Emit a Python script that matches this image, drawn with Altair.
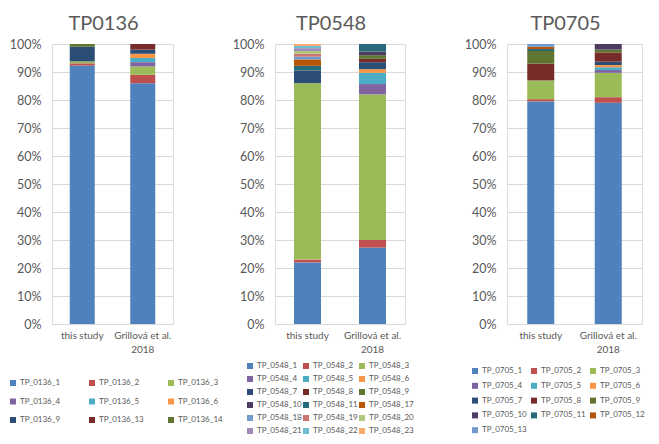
import altair as alt
import pandas as pd

studies = ["this study", "Grillová et al.\n2018"]

# Excel-like palette
c = ["#4F81BD", "#C0504D", "#9BBB59", "#8064A2", "#4BACC6", "#F79646",
     "#2C4D75", "#772C2A", "#5F7530", "#4D3B62", "#276A7C", "#B65708",
     "#729ACA", "#CD7371", "#AFC97A", "#9F8AB8", "#6FBDD1", "#F9AB6B"]

tp0136_series = ["TP_0136_1", "TP_0136_2", "TP_0136_3", "TP_0136_4", "TP_0136_5",
                 "TP_0136_6", "TP_0136_9", "TP_0136_13", "TP_0136_14"]
tp0136_this = [92.3, 0.8, 0.7, 0, 0, 0, 5.2, 0, 1.0]
tp0136_grill = [86.0, 3.0, 3.0, 1.5, 1.5, 1.5, 1.5, 2.0, 0]
tp0136_colors = c[0:9]

tp0548_series = ["TP_0548_1", "TP_0548_2", "TP_0548_3", "TP_0548_4", "TP_0548_5",
                 "TP_0548_6", "TP_0548_7", "TP_0548_8", "TP_0548_9", "TP_0548_10",
                 "TP_0548_11", "TP_0548_17", "TP_0548_18", "TP_0548_19", "TP_0548_20",
                 "TP_0548_21", "TP_0548_22", "TP_0548_23"]
tp0548_this = [22.0, 1.0, 63.0, 0, 0, 0, 4.5, 0, 0, 0, 1.7, 2.3, 1.0, 1.0, 1.0, 1.0, 0.8, 0.7]
tp0548_grill = [27.3, 2.7, 52.0, 3.7, 4.0, 1.3, 2.5, 1.2, 1.3, 1.3, 2.7, 0, 0, 0, 0, 0, 0, 0]
tp0548_colors = c[0:18]

tp0705_series = ["TP_0705_1", "TP_0705_2", "TP_0705_3", "TP_0705_4", "TP_0705_5",
                 "TP_0705_6", "TP_0705_7", "TP_0705_8", "TP_0705_9", "TP_0705_10",
                 "TP_0705_11", "TP_0705_12", "TP_0705_13"]
tp0705_this = [79.5, 0.8, 6.7, 0, 0, 0, 0, 6.0, 4.5, 0, 0.7, 0.8, 1.0]
tp0705_grill = [79.0, 2.0, 8.7, 1.0, 1.0, 0.8, 1.2, 3.3, 1.0, 2.0, 0, 0, 0]
tp0705_colors = c[0:13]

tick_values = [0, 0.1, 0.2, 0.3, 0.4, 0.5, 0.6, 0.7, 0.8, 0.9, 1.0]

FONT = "Lato"
GREY = "#595959"
H = 280


def panel(title, series, colors, this_vals, grill_vals, width, bar_w,
          lx, ly, col_pad, row_pad):
    rows = []
    for i, s in enumerate(series):
        rows.append({"study": studies[0], "series": s, "value": this_vals[i], "idx": i})
        rows.append({"study": studies[1], "series": s, "value": grill_vals[i], "idx": i})
    df = pd.DataFrame(rows)
    return alt.Chart(
        df,
        title=alt.TitleParams(text=title, fontSize=20, font=FONT, fontWeight="normal",
                              color=GREY, dx=-9, offset=4),
    ).mark_bar(size=bar_w).encode(
        x=alt.X("study:N", sort=studies,
                scale=alt.Scale(paddingInner=0.5, paddingOuter=0.25),
                axis=alt.Axis(title=None, labelAngle=0, domain=False, ticks=False,
                              labelExpr="split(datum.label, '\\n')",
                              labelFontSize=10, labelColor=GREY, labelFont=FONT,
                              labelPadding=6, labelLineHeight=14)),
        y=alt.Y("value:Q", stack="normalize", scale=alt.Scale(domain=[0, 1]),
                axis=alt.Axis(title=None, format=".0%", values=tick_values,
                              domain=False, ticks=False, labelFontSize=12.5,
                              labelColor=GREY, labelFont=FONT, labelPadding=11,
                              gridColor="#D9D9D9", gridWidth=1)),
        color=alt.Color("series:N",
                        scale=alt.Scale(domain=series, range=colors),
                        legend=alt.Legend(title=None, orient="none", legendX=lx, legendY=ly,
                                          direction="horizontal",
                                          columns=3, symbolType="square", symbolSize=36,
                                          symbolStrokeWidth=0, labelFontSize=8,
                                          labelFont=FONT, labelColor=GREY,
                                          gridAlign="all", columnPadding=col_pad,
                                          rowPadding=row_pad, labelOffset=3)),
        order=alt.Order("idx:Q", sort="ascending"),
        tooltip=["study:N", "series:N", "value:Q"],
    ).properties(width=width, height=H)


p1 = panel("TP0136", tp0136_series, tp0136_colors, tp0136_this, tp0136_grill,
           121, 25, -43, 335, 23, 10.5)
p2 = panel("TP0548", tp0548_series, tp0548_colors, tp0548_this, tp0548_grill,
           130, 27, -29, 318, 0, 5)
p3 = panel("TP0705", tp0705_series, tp0705_colors, tp0705_this, tp0705_grill,
           135, 27, -36, 323, 3, 6.8)

chart = alt.hconcat(p1, p2, p3, spacing=102, bounds="flush").resolve_scale(
    color="independent"
).properties(
    padding={"left": 0, "top": 5, "right": 0, "bottom": 0}
).configure_view(stroke=None).configure(background="white")

chart.save("out.html", embed_options={"renderer": "svg", "actions": False})
